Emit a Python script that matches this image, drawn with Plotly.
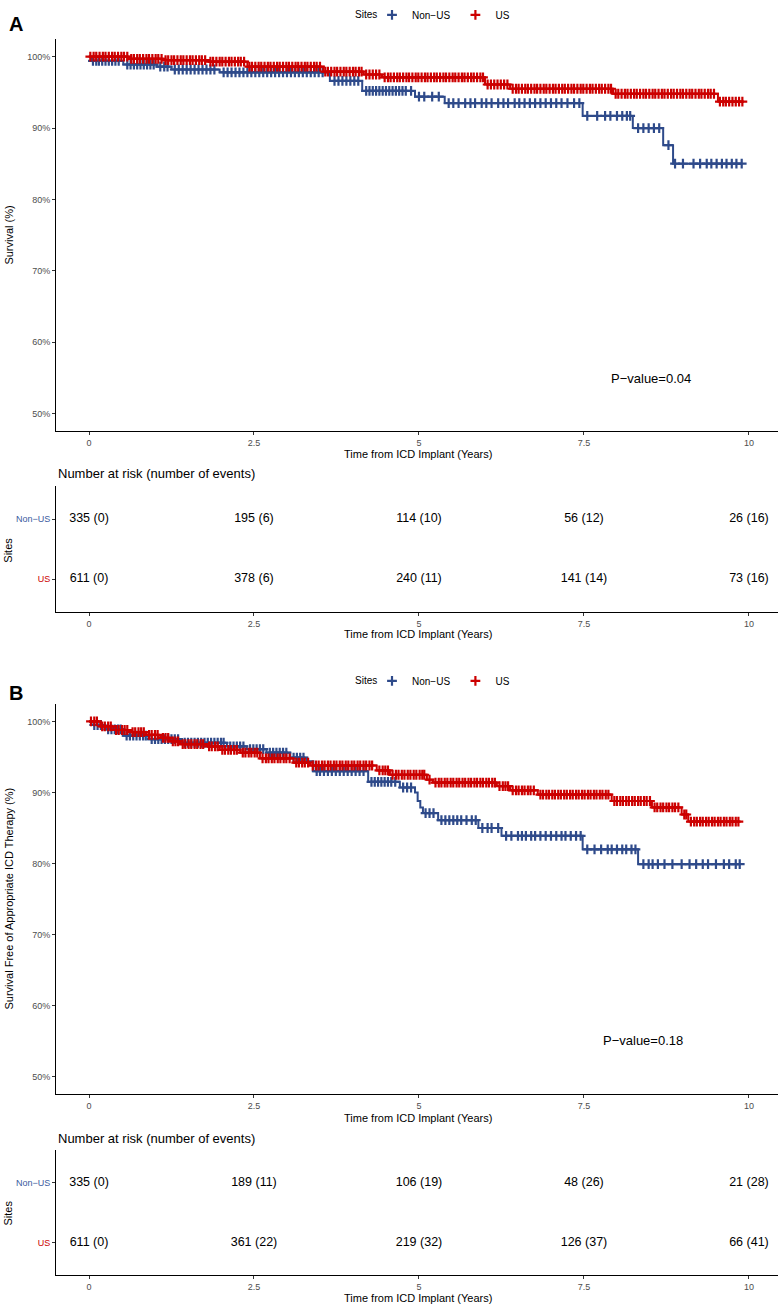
import plotly.graph_objects as go

# Kaplan-Meier steps (time in years, survival in %)
a_nonus_times = [0, 0.03, 0.52, 1.03, 1.25, 1.98, 3.65, 4.14, 4.94, 5.39, 7.48, 8.24, 8.70, 8.85]
a_nonus_surv = [100, 99.4, 98.9, 98.6, 98.2, 97.8, 96.6, 95.2, 94.4, 93.5, 91.7, 90.0, 87.6, 85.0]
a_nonus_end = 9.9

a_us_times = [0, 0.62, 1.13, 1.81, 2.40, 3.55, 4.16, 4.44, 6.00, 6.38, 7.94, 9.53]
a_us_surv = [100, 99.7, 99.5, 99.3, 98.6, 97.9, 97.5, 97.1, 96.1, 95.5, 94.8, 93.7]
a_us_end = 9.9

b_nonus_times = [0, 0.04, 0.25, 0.52, 0.90, 1.40, 2.09, 2.39, 2.69, 3.05, 3.30, 3.40, 4.23,
                 4.71, 4.94, 4.98, 5.02, 5.06, 5.29, 5.90, 6.25, 7.48, 8.32]
b_nonus_surv = [100, 99.5, 98.9, 98.0, 97.5, 97.0, 96.5, 96.1, 95.6, 94.9, 94.4, 93.0, 91.5,
                90.7, 90.0, 88.8, 87.9, 87.1, 86.1, 85.0, 83.9, 82.0, 79.9]
b_nonus_end = 9.86

b_us_times = [0, 0.17, 0.37, 0.62, 0.87, 1.08, 1.23, 1.38, 1.78, 1.98, 2.29, 2.59, 3.10, 3.35,
              4.36, 4.56, 5.12, 5.21, 6.18, 6.38, 6.80, 7.92, 8.53, 8.98, 9.08]
b_us_surv = [100, 99.3, 98.8, 98.5, 98.1, 97.7, 97.2, 96.8, 96.5, 96.0, 95.6, 94.8, 94.2, 93.8,
             93.1, 92.5, 91.8, 91.4, 90.9, 90.3, 89.7, 88.8, 87.9, 86.9, 85.9]
b_us_end = 9.86

# censoring ticks (estimated positions)
a_nonus_cens = [0.06, 0.11, 0.15, 0.2, 0.25, 0.3, 0.35, 0.4, 0.45, 0.58, 0.63, 0.68, 0.73, 0.78,
                0.83, 0.88, 0.93, 0.98, 1.08, 1.14, 1.19, 1.3, 1.36, 1.42, 1.48, 1.54, 1.6, 1.66,
                1.72, 1.78, 1.84, 1.9, 2.04, 2.1, 2.16, 2.22, 2.28, 2.34, 2.4, 2.46, 2.52, 2.58,
                2.64, 2.7, 2.76, 2.82, 2.88, 2.94, 3.0, 3.06, 3.12, 3.18, 3.24, 3.3, 3.36, 3.42,
                3.48, 3.54, 3.72, 3.78, 3.84, 3.9, 3.96, 4.02, 4.08, 4.2, 4.25, 4.3, 4.35, 4.4,
                4.45, 4.5, 4.55, 4.6, 4.65, 4.7, 4.75, 4.8, 4.88, 5.0, 5.08, 5.2, 5.3, 5.45, 5.52,
                5.6, 5.7, 5.78, 5.85, 5.95, 6.02, 6.1, 6.2, 6.28, 6.35, 6.45, 6.52, 6.6, 6.68,
                6.76, 6.84, 6.92, 7.0, 7.08, 7.16, 7.25, 7.35, 7.43, 7.55, 7.7, 7.82, 7.9, 8.0,
                8.08, 8.15, 8.2, 8.32, 8.4, 8.48, 8.56, 8.64, 8.78, 8.88, 9.0, 9.16, 9.26, 9.36,
                9.43, 9.51, 9.59, 9.66, 9.74, 9.81, 9.89]
a_us_cens = [0.02, 0.07, 0.11, 0.16, 0.21, 0.25, 0.3, 0.35, 0.39, 0.44, 0.49, 0.53, 0.58, 0.64,
             0.68, 0.73, 0.77, 0.82, 0.87, 0.91, 0.96, 1.01, 1.05, 1.1, 1.16, 1.2, 1.25, 1.29,
             1.34, 1.39, 1.43, 1.48, 1.53, 1.57, 1.62, 1.67, 1.71, 1.76, 1.84, 1.88, 1.93, 1.98,
             2.02, 2.07, 2.12, 2.16, 2.21, 2.26, 2.3, 2.35, 2.43, 2.47, 2.52, 2.57, 2.61, 2.66,
             2.71, 2.75, 2.8, 2.85, 2.89, 2.94, 2.99, 3.03, 3.08, 3.13, 3.17, 3.22, 3.27, 3.31,
             3.36, 3.41, 3.45, 3.5, 3.58, 3.62, 3.67, 3.72, 3.76, 3.81, 3.86, 3.9, 3.95, 4.0,
             4.04, 4.09, 4.13, 4.2, 4.25, 4.3, 4.35, 4.4, 4.48, 4.53, 4.57, 4.62, 4.67, 4.71,
             4.76, 4.81, 4.85, 4.9, 4.95, 4.99, 5.04, 5.09, 5.13, 5.18, 5.23, 5.27, 5.32, 5.37,
             5.41, 5.46, 5.51, 5.55, 5.6, 5.65, 5.69, 5.74, 5.79, 5.83, 5.88, 5.93, 5.97, 6.04,
             6.09, 6.14, 6.19, 6.24, 6.29, 6.34, 6.42, 6.47, 6.51, 6.56, 6.61, 6.65, 6.7, 6.75,
             6.79, 6.84, 6.89, 6.93, 6.98, 7.03, 7.07, 7.12, 7.17, 7.21, 7.26, 7.31, 7.35, 7.4,
             7.45, 7.49, 7.54, 7.59, 7.63, 7.68, 7.73, 7.77, 7.82, 7.87, 7.91, 7.98, 8.02, 8.07,
             8.12, 8.16, 8.21, 8.26, 8.3, 8.35, 8.4, 8.44, 8.49, 8.54, 8.58, 8.63, 8.68, 8.72,
             8.77, 8.82, 8.86, 8.91, 8.96, 9.0, 9.05, 9.1, 9.14, 9.19, 9.24, 9.28, 9.33, 9.38,
             9.42, 9.47, 9.56, 9.61, 9.65, 9.7, 9.75, 9.8, 9.85, 9.9]
b_nonus_cens = [0.08, 0.13, 0.18, 0.29, 0.34, 0.39, 0.44, 0.48, 0.57, 0.62, 0.67, 0.72, 0.77,
                0.82, 0.86, 0.95, 1.0, 1.05, 1.1, 1.15, 1.2, 1.25, 1.3, 1.35, 1.45, 1.5, 1.55,
                1.6, 1.65, 1.7, 1.75, 1.8, 1.85, 1.9, 1.95, 2.0, 2.04, 2.14, 2.19, 2.24, 2.29,
                2.34, 2.44, 2.49, 2.54, 2.59, 2.64, 2.74, 2.79, 2.84, 2.89, 2.94, 2.99, 3.1, 3.15,
                3.2, 3.25, 3.45, 3.5, 3.56, 3.62, 3.68, 3.74, 3.8, 3.86, 3.92, 3.98, 4.04, 4.1,
                4.16, 4.28, 4.33, 4.38, 4.43, 4.48, 4.53, 4.58, 4.64, 4.76, 4.82, 4.88, 5.1, 5.16,
                5.22, 5.34, 5.4, 5.46, 5.52, 5.58, 5.64, 5.72, 5.8, 5.86, 5.96, 6.04, 6.1, 6.2,
                6.32, 6.4, 6.5, 6.56, 6.62, 6.7, 6.76, 6.84, 6.92, 7.0, 7.08, 7.16, 7.22, 7.3,
                7.38, 7.45, 7.55, 7.66, 7.76, 7.86, 7.92, 8.0, 8.08, 8.14, 8.22, 8.28, 8.4, 8.48,
                8.54, 8.62, 8.72, 8.84, 8.98, 9.1, 9.2, 9.3, 9.38, 9.5, 9.62, 9.7, 9.8, 9.86]
b_us_cens = [0.03, 0.08, 0.12, 0.2, 0.24, 0.29, 0.33, 0.41, 0.45, 0.5, 0.54, 0.58, 0.66, 0.7,
             0.75, 0.79, 0.83, 0.91, 0.95, 1.0, 1.04, 1.12, 1.16, 1.2, 1.27, 1.31, 1.35, 1.42,
             1.46, 1.51, 1.55, 1.6, 1.64, 1.69, 1.73, 1.82, 1.86, 1.91, 1.95, 2.02, 2.06, 2.11,
             2.15, 2.2, 2.24, 2.33, 2.37, 2.42, 2.46, 2.51, 2.55, 2.63, 2.68, 2.72, 2.77, 2.81,
             2.86, 2.9, 2.95, 2.99, 3.04, 3.14, 3.18, 3.23, 3.27, 3.32, 3.39, 3.44, 3.48, 3.53,
             3.57, 3.62, 3.66, 3.71, 3.75, 3.8, 3.84, 3.89, 3.93, 3.98, 4.02, 4.07, 4.11, 4.16,
             4.2, 4.25, 4.29, 4.4, 4.45, 4.49, 4.53, 4.6, 4.65, 4.69, 4.74, 4.78, 4.83, 4.87,
             4.92, 4.96, 5.01, 5.05, 5.08, 5.16, 5.25, 5.3, 5.34, 5.39, 5.43, 5.48, 5.52, 5.57,
             5.61, 5.66, 5.7, 5.75, 5.79, 5.84, 5.88, 5.93, 5.97, 6.02, 6.06, 6.11, 6.15, 6.22,
             6.27, 6.31, 6.35, 6.42, 6.47, 6.51, 6.56, 6.6, 6.65, 6.69, 6.74, 6.84, 6.88, 6.93,
             6.97, 7.02, 7.06, 7.11, 7.15, 7.2, 7.24, 7.29, 7.33, 7.38, 7.42, 7.47, 7.51, 7.56,
             7.6, 7.65, 7.69, 7.74, 7.78, 7.83, 7.87, 7.96, 8.0, 8.05, 8.09, 8.14, 8.18, 8.23,
             8.27, 8.32, 8.36, 8.41, 8.45, 8.5, 8.57, 8.61, 8.66, 8.7, 8.75, 8.79, 8.84, 8.88,
             8.93, 9.02, 9.05, 9.12, 9.17, 9.21, 9.26, 9.3, 9.35, 9.39, 9.44, 9.48, 9.53, 9.57,
             9.62, 9.66, 9.71, 9.75, 9.8, 9.84]

# number at risk (number of events)
risk_times = [0, 2.5, 5, 7.5, 10]
a_risk_nonus = ['335 (0)', '195 (6)', '114 (10)', '56 (12)', '26 (16)']
a_risk_us = ['611 (0)', '378 (6)', '240 (11)', '141 (14)', '73 (16)']
b_risk_nonus = ['335 (0)', '189 (11)', '106 (19)', '48 (26)', '21 (28)']
b_risk_us = ['611 (0)', '361 (22)', '219 (32)', '126 (37)', '66 (41)']

x_ticks = [0, 2.5, 5, 7.5, 10]
x_tick_labels = ['0', '2.5', '5', '7.5', '10']
y_ticks = [50, 60, 70, 80, 90, 100]
y_tick_labels = ['50%', '60%', '70%', '80%', '90%', '100%']

blue = '#2E4A8A'
red = '#CC0000'
font_family = 'Liberation Sans, Arial, sans-serif'
W, H = 778, 1305


def surv_at(t, times, surv):
    value = surv[0]
    for ti, si in zip(times, surv):
        if ti <= t:
            value = si
    return value


def px_y(p):
    return 1 - p / H


fig = go.Figure()


def add_km(times, surv, end, cens, color, name, xa, ya, legend):
    fig.add_trace(go.Scatter(
        x=times + [end], y=surv + [surv[-1]],
        mode='lines', line=dict(color=color, width=2, shape='hv'),
        xaxis=xa, yaxis=ya, showlegend=False, hoverinfo='skip',
    ))
    fig.add_trace(go.Scatter(
        x=cens, y=[surv_at(t, times, surv) for t in cens],
        mode='markers', name=name, legend=legend,
        marker=dict(symbol='cross-thin', size=7, line=dict(color=color, width=2.2)),
        xaxis=xa, yaxis=ya,
    ))


add_km(a_nonus_times, a_nonus_surv, a_nonus_end, a_nonus_cens, blue, 'Non−US', 'x', 'y', 'legend')
add_km(a_us_times, a_us_surv, a_us_end, a_us_cens, red, 'US', 'x', 'y', 'legend')
add_km(b_nonus_times, b_nonus_surv, b_nonus_end, b_nonus_cens, blue, 'Non−US', 'x3', 'y3', 'legend2')
add_km(b_us_times, b_us_surv, b_us_end, b_us_cens, red, 'US', 'x3', 'y3', 'legend2')

for xa, ya, nonus, us in [('x2', 'y2', a_risk_nonus, a_risk_us), ('x4', 'y4', b_risk_nonus, b_risk_us)]:
    fig.add_trace(go.Scatter(
        x=risk_times + risk_times, y=[2] * len(risk_times) + [1] * len(risk_times),
        text=nonus + us, mode='text', textposition='middle center',
        textfont=dict(size=12.5, color='black', family=font_family),
        xaxis=xa, yaxis=ya, showlegend=False, hoverinfo='skip',
    ))

x_dom = [56 / W, 1.0]
axis_style = dict(
    showline=True, linecolor='black', linewidth=1, ticks='outside', ticklen=3,
    tickcolor='#333333', tickfont=dict(size=9, color='#4D4D4D'), showgrid=False,
    zeroline=False, automargin=False,
)
x_style = dict(axis_style, range=[-0.5, 10.44], tickvals=x_ticks, ticktext=x_tick_labels, domain=x_dom)
y_main = dict(axis_style, range=[47.5, 102.5], tickvals=y_ticks, ticktext=y_tick_labels)
y_table = dict(
    axis_style, range=[0.45, 2.55], tickvals=[1, 2],
    ticktext=[f'<span style="color:{red}">US</span>', 'Non−US'],
    tickfont=dict(size=9, color='#3A5A9E'),
)

legend_style = dict(
    orientation='h', xanchor='left', yanchor='middle', x=372 / W,
    font=dict(size=10), itemwidth=30, bgcolor='rgba(0,0,0,0)',
)

fig.update_layout(
    width=W, height=H, margin=dict(l=0, r=0, t=0, b=0),
    paper_bgcolor='white', plot_bgcolor='white',
    font=dict(family=font_family, color='black'),
    xaxis=dict(x_style, anchor='y'),
    yaxis=dict(y_main, domain=[px_y(426), px_y(31)], anchor='x'),
    xaxis2=dict(x_style, anchor='y2'),
    yaxis2=dict(y_table, domain=[px_y(608), px_y(481)], anchor='x2'),
    xaxis3=dict(x_style, anchor='y3'),
    yaxis3=dict(y_main, domain=[px_y(1093), px_y(700)], anchor='x3'),
    xaxis4=dict(x_style, anchor='y4'),
    yaxis4=dict(y_table, domain=[px_y(1275), px_y(1149)], anchor='x4'),
    legend=dict(legend_style, y=px_y(7)),
    legend2=dict(legend_style, y=px_y(677)),
)

notes = [
    ('A', 16, 16, 20, True, 0),
    ('B', 16, 689, 20, True, 0),
    ('Sites', 366, 7, 10, False, 0),
    ('Sites', 366, 677, 10, False, 0),
    ('Time from ICD Implant (Years)', 418, 449, 11, False, 0),
    ('Time from ICD Implant (Years)', 418, 630, 11, False, 0),
    ('Time from ICD Implant (Years)', 418, 1117, 11, False, 0),
    ('Time from ICD Implant (Years)', 418, 1298, 11, False, 0),
    ('Survival (%)', 9, 229, 11, False, -90),
    ('Survival Free of Appropriate ICD Therapy (%)', 9, 896, 11, False, -90),
    ('Sites', 8, 545, 11, False, -90),
    ('Sites', 8, 1212, 11, False, -90),
]
for text, x, y, size, bold, angle in notes:
    fig.add_annotation(
        text=f'<b>{text}</b>' if bold else text, xref='paper', yref='paper',
        x=x / W, y=px_y(y), xanchor='center', yanchor='middle', showarrow=False,
        textangle=angle, font=dict(size=size, color='black', family=font_family),
    )

for y in [468, 1137]:
    fig.add_annotation(
        text='Number at risk (number of events)', xref='paper', yref='paper',
        x=56 / W, y=px_y(y), xanchor='left', yanchor='middle', showarrow=False,
        font=dict(size=13, color='black', family=font_family),
    )

fig.add_annotation(text='P−value=0.04', xref='x', yref='y', x=8.52, y=54.9,
                   showarrow=False, font=dict(size=13, color='black'))
fig.add_annotation(text='P−value=0.18', xref='x3', yref='y3', x=8.4, y=55.1,
                   showarrow=False, font=dict(size=13, color='black'))

fig.write_html(
    'out.html',
    config={'displayModeBar': False},
    post_script="document.body.style.margin='0';document.body.style.overflow='hidden';",
)
